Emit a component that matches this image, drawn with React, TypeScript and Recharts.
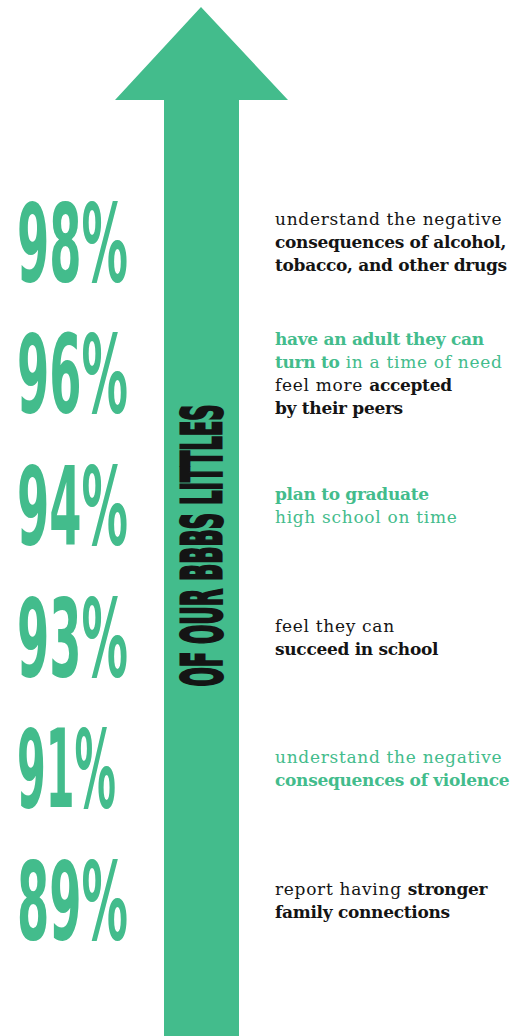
import { ComposedChart, Bar, XAxis, YAxis, Customized } from 'recharts'

const GREEN = '#43BC8C'
const INK = '#141414'

// share of Littles per statement, top to bottom
const percents = [98, 96, 94, 93, 91, 89]

// "+" at the start = green line, **...** = bold words
const statements = [
  ['understand the negative', '**consequences of alcohol,**', '**tobacco, and other drugs**'],
  ['+**have an adult they can**', '+**turn to** in a time of need', 'feel more **accepted**', '**by their peers**'],
  ['+**plan to graduate**', '+high school on time'],
  ['feel they can', '**succeed in school**'],
  ['+understand the negative', '+**consequences of violence**'],
  ['report having **stronger**', '**family connections**'],
]

const bannerText = 'OF OUR BBBS LITTLES'

const data = percents.map((pct, i) => ({ row: 'r' + i, pct, lines: statements[i] }))

function StatementLine({ line, y }: { line: string; y: number }) {
  const green = line.startsWith('+')
  const parts = line.replace(/^\+/, '').split('**')
  return (
    <text x={275} y={y} fontFamily="DejaVu Serif" fontSize={17} fill={green ? GREEN : INK} style={{ whiteSpace: 'pre' }}>
      {parts.map((p, k) =>
        p ? (
          <tspan key={k} fontWeight={k % 2 ? 700 : 400} letterSpacing={k % 2 ? -0.3 : 0.7}>
            {p}
          </tspan>
        ) : null
      )}
    </text>
  )
}

function RowShape(props: any) {
  const { y, height, payload } = props
  const cy = y + height / 2
  const label = payload.pct + '%'
  const narrow = label.includes('1')
  const n = payload.lines.length
  return (
    <g>
      <text
        x={17}
        y={cy + 39}
        fontFamily="DejaVu Sans"
        fontWeight="bold"
        fontSize={109}
        fill={GREEN}
        textLength={narrow ? 99 : 111}
        lengthAdjust="spacingAndGlyphs"
      >
        {label}
      </text>
      {payload.lines.map((line: string, j: number) => (
        <StatementLine key={j} line={line} y={cy + 6.5 + (j - (n - 1) / 2) * 23} />
      ))}
    </g>
  )
}

function Arrow() {
  return (
    <g>
      <polygon points="201,7 288,100 239,100 239,1036 164,1036 164,100 115,100" fill={GREEN} />
      <text
        transform="translate(201,545.5) rotate(-90)"
        x={0}
        y={20}
        textAnchor="middle"
        fontFamily="DejaVu Sans"
        fontWeight="bold"
        fontSize={56}
        fill={INK}
        stroke={INK}
        strokeWidth={3}
        textLength={282}
        lengthAdjust="spacingAndGlyphs"
      >
        {bannerText}
      </text>
    </g>
  )
}

export default function App() {
  return (
    <div style={{ position: 'absolute', left: 0, top: 0, width: 520, height: 1036, background: '#fff' }}>
      <ComposedChart width={520} height={1036} data={data} layout="vertical" margin={{ top: 176, right: 0, bottom: 70, left: 0 }}>
        <XAxis type="number" domain={[0, 100]} hide />
        <YAxis type="category" dataKey="row" hide />
        <Customized component={Arrow} />
        <Bar dataKey="pct" shape={RowShape} isAnimationActive={false} />
      </ComposedChart>
    </div>
  )
}
